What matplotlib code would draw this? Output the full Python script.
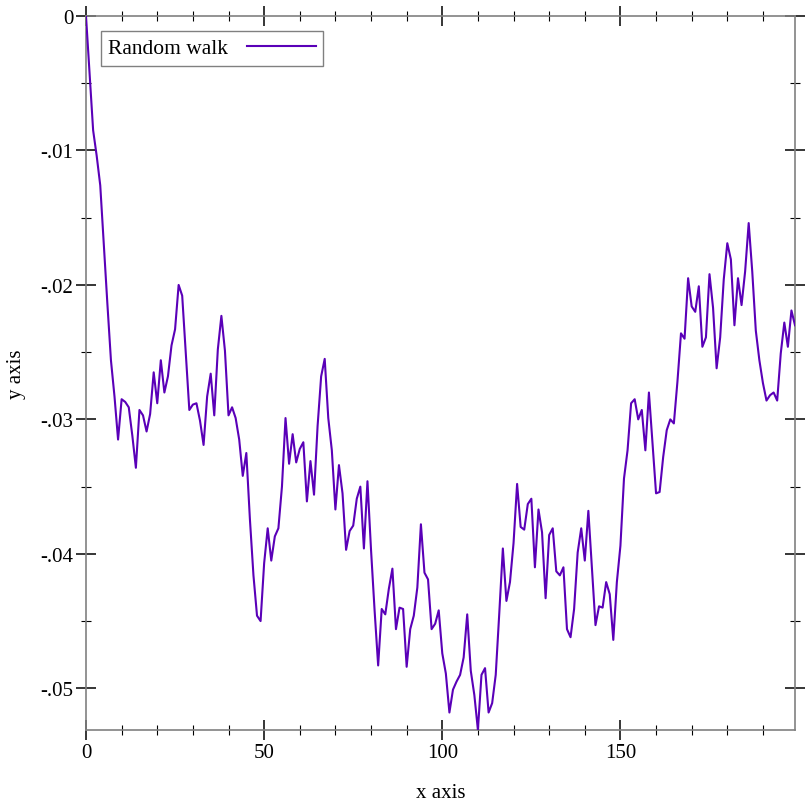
import numpy as np
import matplotlib.pyplot as plt
from matplotlib.ticker import MultipleLocator, FuncFormatter

# ── data (one value per step) ────────────────────────────────────────────────
steps = np.arange(200)
walk = np.array([
    0.0, -0.0042, -0.0085, -0.0104, -0.0126, -0.0170, -0.0214, -0.0256, -0.0283, -0.0315,
    -0.0285, -0.0287, -0.0291, -0.0312, -0.0336, -0.0293, -0.0297, -0.0309, -0.0296, -0.0265,
    -0.0288, -0.0256, -0.0280, -0.0268, -0.0245, -0.0233, -0.0200, -0.0208, -0.0250, -0.0293,
    -0.0289, -0.0288, -0.0301, -0.0319, -0.0283, -0.0266, -0.0297, -0.0248, -0.0223, -0.0249,
    -0.0297, -0.0291, -0.0299, -0.0315, -0.0342, -0.0325, -0.0374, -0.0416, -0.0446, -0.0450,
    -0.0407, -0.0381, -0.0405, -0.0387, -0.0381, -0.0350, -0.0299, -0.0333, -0.0311, -0.0332,
    -0.0322, -0.0317, -0.0361, -0.0331, -0.0356, -0.0305, -0.0268, -0.0255, -0.0299, -0.0323,
    -0.0367, -0.0334, -0.0355, -0.0397, -0.0383, -0.0379, -0.0359, -0.0350, -0.0396, -0.0346,
    -0.0397, -0.0442, -0.0483, -0.0441, -0.0445, -0.0426, -0.0411, -0.0456, -0.0440, -0.0441,
    -0.0484, -0.0456, -0.0446, -0.0425, -0.0378, -0.0414, -0.0419, -0.0456, -0.0452, -0.0442,
    -0.0474, -0.0489, -0.0518, -0.0501, -0.0495, -0.0490, -0.0477, -0.0445, -0.0487, -0.0505,
    -0.0531, -0.0490, -0.0485, -0.0518, -0.0511, -0.0490, -0.0444, -0.0396, -0.0435, -0.0421,
    -0.0392, -0.0348, -0.0380, -0.0382, -0.0363, -0.0359, -0.0410, -0.0367, -0.0384, -0.0433,
    -0.0386, -0.0381, -0.0413, -0.0416, -0.0410, -0.0456, -0.0462, -0.0441, -0.0399, -0.0381,
    -0.0405, -0.0368, -0.0411, -0.0453, -0.0439, -0.0440, -0.0421, -0.0430, -0.0464, -0.0421,
    -0.0394, -0.0344, -0.0323, -0.0288, -0.0285, -0.0300, -0.0293, -0.0323, -0.0280, -0.0318,
    -0.0355, -0.0354, -0.0328, -0.0308, -0.0300, -0.0303, -0.0272, -0.0236, -0.0240, -0.0195,
    -0.0216, -0.0220, -0.0201, -0.0246, -0.0239, -0.0192, -0.0217, -0.0262, -0.0239, -0.0196,
    -0.0169, -0.0181, -0.0230, -0.0195, -0.0215, -0.0190, -0.0154, -0.0190, -0.0234, -0.0256,
    -0.0273, -0.0286, -0.0282, -0.0280, -0.0286, -0.0251, -0.0228, -0.0246, -0.0219, -0.0230,
])

LINE = "#5a00b8"
FRAME = "#808080"
plt.rcParams["font.family"] = ["Liberation Serif", "DejaVu Serif"]
plt.rcParams["font.size"] = 15

W = H = 812
fig = plt.figure(figsize=(W / 100, H / 100), dpi=100)
fig.patch.set_facecolor("white")
ax = fig.add_axes([86 / W, 1 - 731 / H, (795 - 86) / W, (731 - 17) / H])

ax.plot(steps, walk, color=LINE, lw=1.5, label="Random walk", zorder=3)
ax.set_xlim(steps.min(), steps.max())
ax.set_ylim(walk.min(), 0)

# ── racket-plot style axes ────────────────────────────────────────────────────
ax.xaxis.set_major_locator(MultipleLocator(50))
ax.xaxis.set_minor_locator(MultipleLocator(10))
ax.yaxis.set_major_locator(MultipleLocator(0.01))
ax.yaxis.set_minor_locator(MultipleLocator(0.005))


def yfmt(v, _):
    if abs(v) < 1e-12:
        return "0"
    s = f"{v:.2f}"
    return s.replace("0.", ".")


ax.yaxis.set_major_formatter(FuncFormatter(yfmt))
ax.tick_params(which="both", direction="inout", colors="black",
               top=True, right=True, labelsize=15)
ax.tick_params(which="major", length=14.5, width=1.1, pad=2)
ax.tick_params(which="minor", length=7.2, width=0.8)
for sp in ax.spines.values():
    sp.set_color(FRAME)
    sp.set_linewidth(1.2)

ax.set_xlabel("x axis", labelpad=15)
ax.set_ylabel("y axis", labelpad=10)

leg = ax.legend(loc="upper left", markerfirst=False, fancybox=False,
                framealpha=1, edgecolor=FRAME, borderpad=0.36,
                borderaxespad=0.68, handlelength=3.2, handletextpad=0.85,
                fontsize=15.5)
leg.get_frame().set_linewidth(1.0)

fig.savefig("out.png", dpi=100, facecolor="white")
